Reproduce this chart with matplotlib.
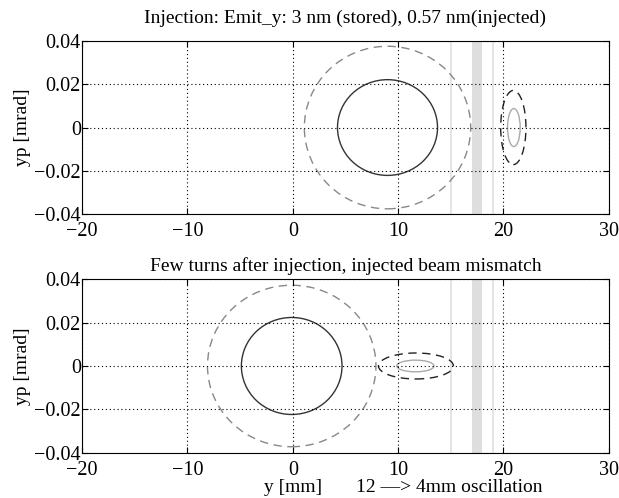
import matplotlib
matplotlib.use('Agg')
import matplotlib.pyplot as plt
from matplotlib.patches import Ellipse

plt.rcParams['font.family'] = ['Liberation Serif', 'DejaVu Serif']
plt.rcParams['font.size'] = 14

# ellipse data: (center_y, center_yp, half width [mm], half height [mrad])
top_stored_solid = (9.0, 0.0, 4.75, 0.0222)
top_stored_dash = (9.0, 0.0, 7.9, 0.0377)
top_inj_dash = (20.95, 0.0, 1.2, 0.0172)
top_inj_solid = (21.0, 0.0, 0.6, 0.0088)

bot_stored_solid = (-0.1, 0.0, 4.78, 0.0224)
bot_stored_dash = (-0.1, 0.0, 8.0, 0.0373)
bot_inj_dash = (11.7, 0.0, 3.56, 0.0060)
bot_inj_solid = (11.65, 0.0, 1.77, 0.0027)

septum_lines = [15, 19]
septum_band = (17, 18)

xticks = [-20, -10, 0, 10, 20, 30]
yticks = [-0.04, -0.02, 0, 0.02, 0.04]
ytick_labels = ['\u22120.04', '\u22120.02', '0', '0.02', '0.04']

titles = ['Injection: Emit_y: 3 nm (stored), 0.57 nm(injected)',
          'Few turns after injection, injected beam mismatch']
title_pads = [13, 6]


def ell(ax, e, color, ls, lw=1.0):
    ax.add_patch(Ellipse((e[0], e[1]), 2 * e[2], 2 * e[3], fill=False,
                         edgecolor=color, linestyle=ls, linewidth=lw))


fig = plt.figure(figsize=(6.19, 4.98), dpi=100)
ax1 = fig.add_axes([0.1328, 0.5707, 0.8504, 0.3464])
ax2 = fig.add_axes([0.1328, 0.0912, 0.8504, 0.3478])

sets = [(top_stored_solid, top_stored_dash, top_inj_dash, top_inj_solid),
        (bot_stored_solid, bot_stored_dash, bot_inj_dash, bot_inj_solid)]

for ax, s, t, tp in zip([ax1, ax2], sets, titles, title_pads):
    for xl in septum_lines:
        ax.axvline(xl, color='#e2e2e2', lw=1.3, zorder=0)
    ax.axvspan(septum_band[0], septum_band[1], color='#dedede', lw=0, zorder=0)
    ell(ax, s[0], '#333333', '-')
    ell(ax, s[1], '#888888', (0, (6, 4)))
    ell(ax, s[2], '#222222', (0, (6, 4)))
    ell(ax, s[3], '#aaaaaa', '-')
    ax.set_xlim(-20, 30)
    ax.set_ylim(-0.04, 0.04)
    ax.set_xticks(xticks)
    ax.set_yticks(yticks)
    ax.set_yticklabels(ytick_labels)
    ax.grid(True, color='black', linestyle=(0, (1, 2.5)), linewidth=0.8)
    ax.tick_params(direction='in', length=4, top=True, right=True,
                   labelsize=14.5)
    ax.tick_params(axis='x', pad=6)
    ax.tick_params(axis='y', pad=1)
    ax.set_ylabel('yp [mrad]', fontsize=14)
    ax.yaxis.set_label_coords(-0.114, 0.5)
    ax.yaxis.label.set_va('center')
    ax.set_title(t, fontsize=14, pad=tp)
    for sp in ax.spines.values():
        sp.set_linewidth(0.8)

ax2.set_xlabel('y [mm]', fontsize=14)
ax2.xaxis.set_label_coords(0.40, -0.15)
ax2.xaxis.label.set_va('top')
ax2.text(0.52, -0.15, '12 \u2014> 4mm oscillation', transform=ax2.transAxes,
         ha='left', va='top', fontsize=14)

fig.savefig('out.png', dpi=100)
